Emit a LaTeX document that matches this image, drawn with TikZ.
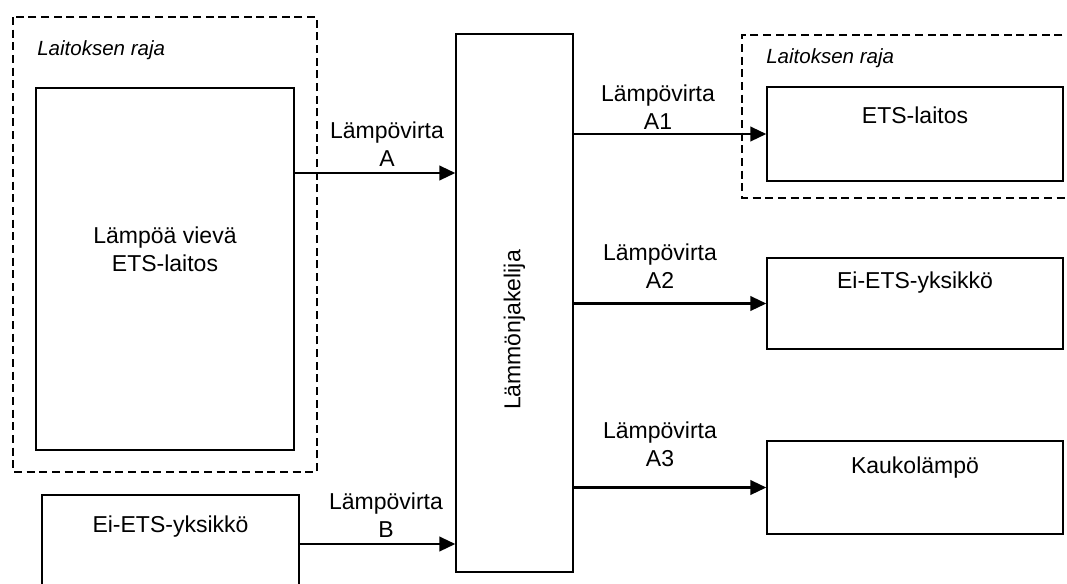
\documentclass[tikz,border=0pt]{standalone}
\usepackage{fontspec}
\setmainfont{Liberation Sans}
\usetikzlibrary{arrows.meta}

\begin{document}
\begin{tikzpicture}[x=0.75pt, y=-0.75pt,
    box/.style={draw, line width=1.1pt, inner sep=0pt},
    border/.style={line width=1pt, dash pattern=on 6pt off 3.5pt},
    flow/.style={line width=1.6pt, -{Triangle[length=12pt,width=11pt]}},
    txt/.style={font=\fontsize{17.25}{21}\selectfont, align=center, inner sep=0pt},
    rajatxt/.style={font=\fontsize{15.4}{18}\selectfont\itshape, inner sep=0pt, anchor=west}]
        \useasboundingbox (0,0) rectangle (1067,583);
        \clip (0,0) rectangle (1067,583);

        % Laitoksen rajat
        \draw[border] (13,17) rectangle (317,472);
        \node[rajatxt] (raja1) at (37,50) {Laitoksen raja};
        \draw[border] (1075,35) -- (742,35) -- (742,198) -- (1075,198);
        \node[rajatxt] (raja2) at (766,58) {Laitoksen raja};

        % Left side
        \node[box, minimum width=193.5pt, minimum height=271.5pt] (src) at (165,269) {};
        \node[txt] (srctxt) at (165,249) {Lämpöä vievä\\ETS-laitos};
        \node[box, minimum width=192.75pt, minimum height=73.5pt] (eib) at (170.5,544) {};
        \node[txt] (eibtxt) at (170.5,527) {Ei-ETS-yksikkö};

        % Distributor
        \node[box, minimum width=87.75pt, minimum height=403.5pt] (hub) at (514.5,303) {};
        \node[txt, rotate=90] (hubtxt) at (514.5,330) {Lämmönjakelija};

        % Right side
        \node[box, minimum width=222pt, minimum height=70.5pt] (ets) at (915,134) {};
        \node[txt] (etstxt) at (915,115) {ETS-laitos};
        \node[box, minimum width=222pt, minimum height=68.25pt] (eir) at (915,303.5) {};
        \node[txt] (eirtxt) at (915,283) {Ei-ETS-yksikkö};
        \node[box, minimum width=222pt, minimum height=69.75pt] (kauko) at (915,487.5) {};
        \node[txt] (kaukotxt) at (915,468) {Kaukolämpö};

        % Heat flows
        \coordinate (ain) at (0,173);
        \draw[flow] (src.east |- ain) -- (hub.west |- ain);
        \node[txt] (lA) at (387,144) {Lämpövirta\\A};
        \draw[flow] (eib.east) -- (eib.east -| hub.west);
        \node[txt] (lB) at (386,515) {Lämpövirta\\B};
        \draw[flow] (ets.west -| hub.east) -- (ets.west);
        \node[txt] (lA1) at (658,107) {Lämpövirta\\A1};
        \draw[flow] (eir.west -| hub.east) -- (eir.west);
        \node[txt] (lA2) at (660,266) {Lämpövirta\\A2};
        \draw[flow] (kauko.west -| hub.east) -- (kauko.west);
        \node[txt] (lA3) at (660,444) {Lämpövirta\\A3};
    \end{tikzpicture}
\end{document}
